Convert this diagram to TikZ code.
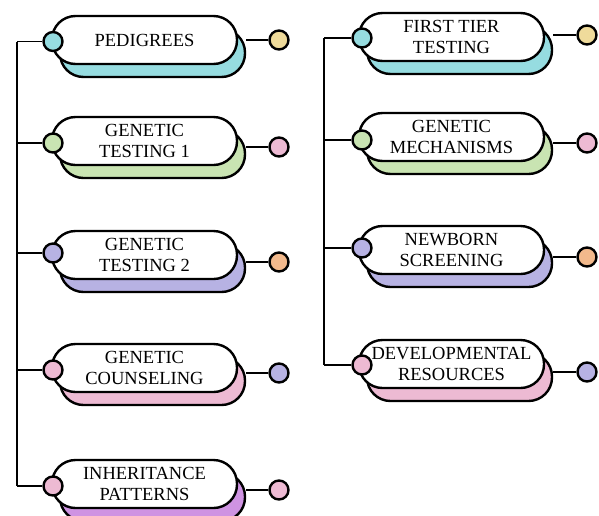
\documentclass[tikz,border=0pt]{standalone}
\usepackage{fontspec}
\setmainfont{Liberation Serif}
\definecolor{cteal}{HTML}{96DCE0}
\definecolor{cgreen}{HTML}{C9E4B2}
\definecolor{clav}{HTML}{B7B2E3}
\definecolor{cpink}{HTML}{EDBAD3}
\definecolor{cpurple}{HTML}{CF93E2}
\definecolor{corange}{HTML}{F2B98C}
\definecolor{cyellow}{HTML}{EFDB9B}
\tikzset{
  frontbox/.style={draw=black, line width=2.4pt, fill=white, rounded corners=23.5pt,
    minimum width=185pt, minimum height=48pt, inner sep=0pt, align=center,
    font=\fontsize{18.5}{21.5}\selectfont},
  shadowbox/.style={draw=black, line width=2.4pt, fill=#1, rounded corners=23.5pt,
    minimum width=185pt, minimum height=48pt, inner sep=0pt},
  dot/.style={circle, draw=black, line width=2.4pt, fill=#1, minimum size=19pt, inner sep=0pt},
  link/.style={draw=black, line width=1.3pt}
}
\begin{document}
\begin{tikzpicture}[x=1pt,y=-1pt]
\useasboundingbox (0,0) rectangle (599,515);
% trunk anchors
\coordinate (tl) at (17,0);
\coordinate (tr) at (324,0);

% ===== left column =====
\node[shadowbox=cteal] (a1s) at (152.5,53) {};
\node[frontbox] (a1) at (144.5,40) {PEDIGREES};
\node[dot=cteal] (a1l) at (53,41.5) {};
\node[dot=cyellow] (a1r) at (279,40) {};

\node[shadowbox=cgreen] (a2s) at (152.5,154) {};
\node[frontbox] (a2) at (144.5,141) {GENETIC\\TESTING 1};
\node[dot=cgreen] (a2l) at (53,143) {};
\node[dot=cpink] (a2r) at (279,147) {};

\node[shadowbox=clav] (a3s) at (152.5,268) {};
\node[frontbox] (a3) at (144.5,255) {GENETIC\\TESTING 2};
\node[dot=clav] (a3l) at (53,253) {};
\node[dot=corange] (a3r) at (279,262) {};

\node[shadowbox=cpink] (a4s) at (152.5,381) {};
\node[frontbox] (a4) at (144.5,368) {GENETIC\\COUNSELING};
\node[dot=cpink] (a4l) at (53,370) {};
\node[dot=clav] (a4r) at (279,373) {};

\node[shadowbox=cpurple] (a5s) at (152.5,497) {};
\node[frontbox] (a5) at (144.5,484) {INHERITANCE\\PATTERNS};
\node[dot=cpink] (a5l) at (53,486) {};
\node[dot=cpink] (a5r) at (279,490) {};

% ===== right column =====
\node[shadowbox=cteal] (b1s) at (459.5,50) {};
\node[frontbox] (b1) at (451.5,37) {FIRST TIER\\TESTING};
\node[dot=cteal] (b1l) at (362,38) {};
\node[dot=cyellow] (b1r) at (587,35) {};

\node[shadowbox=cgreen] (b2s) at (459.5,150) {};
\node[frontbox] (b2) at (451.5,137) {GENETIC\\MECHANISMS};
\node[dot=cgreen] (b2l) at (362,140) {};
\node[dot=cpink] (b2r) at (587,143) {};

\node[shadowbox=clav] (b3s) at (459.5,263) {};
\node[frontbox] (b3) at (451.5,250) {NEWBORN\\SCREENING};
\node[dot=clav] (b3l) at (362,248) {};
\node[dot=corange] (b3r) at (587,257) {};

\node[shadowbox=cpink] (b4s) at (459.5,377) {};
\node[frontbox] (b4) at (451.5,364) {DEVELOPMENTAL\\RESOURCES};
\node[dot=cpink] (b4l) at (362,365) {};
\node[dot=clav] (b4r) at (587,372) {};

% ===== connectors =====
\draw[link] (a1l -| tl) -- (a5l -| tl);
\draw[link] (b1l -| tr) -- (b4l -| tr);
\foreach \n in {a1,a2,a3,a4,a5}{
  \draw[link] (\n l -| tl) -- (\n l.west);
  \draw[link] (\n r -| \n s.east) -- (\n r.west);
}
\foreach \n in {b1,b2,b3,b4}{
  \draw[link] (\n l -| tr) -- (\n l.west);
  \draw[link] (\n r -| \n s.east) -- (\n r.west);
}
\end{tikzpicture}
\end{document}
